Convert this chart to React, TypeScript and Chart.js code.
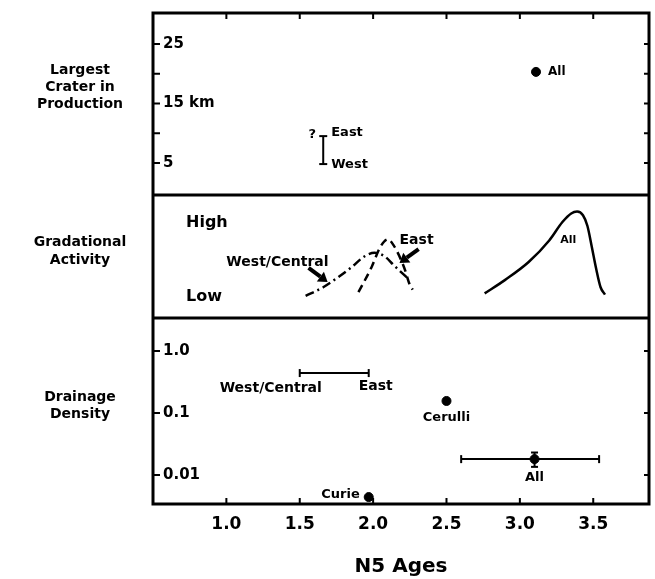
import React, { useEffect, useRef } from 'react';
import { Chart, registerables } from 'chart.js';

Chart.register(...registerables);

const FAMILY = "'DejaVu Sans', sans-serif";

// Axis ticks
const ageTicks = [1.0, 1.5, 2.0, 2.5, 3.0, 3.5];
const craterTicks = [5, 10, 15, 20, 25];
const craterTickLabels = ['5', '', '15 km', '', '25'];
const activityTicks = [1.7, 7.7];
const activityTickLabels = ['Low', 'High'];
const drainageTicks = [0.01, 0.1, 1.0];
const drainageTickLabels = ['0.01', '0.1', '1.0'];

// Largest crater in production (km)
const craterRangeAges = [1.66, 1.66];
const craterRangeKm = [9.5, 4.8]; // East (top), West (bottom)
const craterAllAge = [3.11];
const craterAllKm = [20.3];

// Gradational activity (relative, Low..High)
const westCentralAges = [1.54, 1.66, 1.76, 1.85, 1.94, 2.01, 2.08, 2.14, 2.23];
const westCentralActivity = [1.8, 2.5, 3.3, 4.1, 5.0, 5.3, 5.0, 4.3, 3.3];
const eastAges = [1.9, 1.99, 2.05, 2.1, 2.14, 2.21, 2.25, 2.27];
const eastActivity = [2.1, 4.15, 5.8, 6.4, 5.9, 4.15, 2.7, 2.3];
const allAges = [2.76, 2.9, 3.06, 3.2, 3.29, 3.35, 3.39, 3.43, 3.46, 3.49, 3.52, 3.55, 3.58];
const allActivity = [2.0, 3.1, 4.55, 6.3, 7.8, 8.5, 8.65, 8.35, 7.5, 5.8, 4.0, 2.5, 1.9];

// Drainage density
const drainRangeAges = [1.5, 1.97]; // West/Central .. East
const drainRangeDensity = [0.44, 0.44];
const cerulliAge = [2.5];
const cerulliDensity = [0.156];
const drainAllAge = [3.1];
const drainAllDensity = [0.018];
const drainAllAgeRange = [2.6, 3.54];
const drainAllDensityRange = [0.0135, 0.023];
const curieAge = [1.97];
const curieDensity = [0.0044];

const zip = (xs: number[], ys: number[]) => xs.map((x, i) => ({ x, y: ys[i] }));

const font = (size: number) => `bold ${size}px ${FAMILY}`;

const framePlugin = {
  id: 'frame',
  afterDraw(chart: any) {
    const { ctx, chartArea, scales } = chart;
    const { left, right, top, bottom } = chartArea;
    const x = scales.x;
    const yTop = scales.yTop;
    const yMid = scales.yMid;
    const yBot = scales.yBot;
    ctx.save();
    ctx.strokeStyle = '#000';
    ctx.fillStyle = '#000';
    ctx.lineWidth = 3;
    ctx.strokeRect(left, top, right - left, bottom - top);
    [yTop.bottom, yMid.bottom].forEach((py: number) => {
      ctx.beginPath();
      ctx.moveTo(left, py);
      ctx.lineTo(right, py);
      ctx.stroke();
    });
    ctx.lineWidth = 2;
    ageTicks.forEach((v) => {
      const px = x.getPixelForValue(v);
      ctx.beginPath();
      ctx.moveTo(px, top);
      ctx.lineTo(px, top + 6);
      ctx.moveTo(px, bottom);
      ctx.lineTo(px, bottom - 6);
      ctx.stroke();
    });
    const yt = (scale: any, vals: number[]) =>
      vals.forEach((v) => {
        const py = scale.getPixelForValue(v);
        ctx.beginPath();
        ctx.moveTo(left, py);
        ctx.lineTo(left + 7, py);
        ctx.moveTo(right, py);
        ctx.lineTo(right - 5, py);
        ctx.stroke();
      });
    yt(yTop, craterTicks);
    yt(yBot, drainageTicks);

    const text = (s: string, px: number, py: number, align: CanvasTextAlign, size: number) => {
      ctx.font = font(size);
      ctx.textAlign = align;
      ctx.textBaseline = 'middle';
      ctx.fillText(s, px, py);
    };

    // Left row titles
    const cx = 80;
    text('Largest', cx, yTop.top + 57, 'center', 14);
    text('Crater in', cx, yTop.top + 74, 'center', 14);
    text('Production', cx, yTop.top + 91, 'center', 14);
    text('Gradational', cx, yMid.top + 47, 'center', 14);
    text('Activity', cx, yMid.top + 65, 'center', 14);
    text('Drainage', cx, yBot.top + 79, 'center', 14);
    text('Density', cx, yBot.top + 96, 'center', 14);

    // Top panel labels
    const xr = x.getPixelForValue(craterRangeAges[0]);
    const yE = yTop.getPixelForValue(craterRangeKm[0]);
    const yW = yTop.getPixelForValue(craterRangeKm[1]);
    text('?', xr - 11, yE - 1, 'center', 13);
    text('East', xr + 8, yE - 3, 'left', 13);
    text('West', xr + 8, yW + 1, 'left', 13);
    text('All', x.getPixelForValue(craterAllAge[0]) + 12, yTop.getPixelForValue(craterAllKm[0]), 'left', 12);

    // Middle panel labels and arrows
    text('West/Central', x.getPixelForValue(1.0), yMid.getPixelForValue(4.55), 'left', 14);
    text('East', x.getPixelForValue(2.18), yMid.getPixelForValue(6.34), 'left', 14);
    text('All', x.getPixelForValue(3.33), yMid.getPixelForValue(6.34), 'center', 11);
    const arrow = (x0: number, y0: number, x1: number, y1: number) => {
      const ax = x.getPixelForValue(x0), ay = yMid.getPixelForValue(y0);
      const bx = x.getPixelForValue(x1), by = yMid.getPixelForValue(y1);
      const ang = Math.atan2(by - ay, bx - ax);
      const head = 9;
      const sx = bx - Math.cos(ang) * head, sy = by - Math.sin(ang) * head;
      ctx.lineWidth = 4;
      ctx.beginPath();
      ctx.moveTo(ax, ay);
      ctx.lineTo(sx, sy);
      ctx.stroke();
      ctx.beginPath();
      ctx.moveTo(bx, by);
      ctx.lineTo(sx + Math.cos(ang + Math.PI / 2) * 6, sy + Math.sin(ang + Math.PI / 2) * 6);
      ctx.lineTo(sx + Math.cos(ang - Math.PI / 2) * 6, sy + Math.sin(ang - Math.PI / 2) * 6);
      ctx.closePath();
      ctx.fill();
    };
    arrow(1.56, 4.07, 1.69, 2.93);
    arrow(2.31, 5.6, 2.18, 4.47);

    // Bottom panel labels
    const yr = yBot.getPixelForValue(drainRangeDensity[0]);
    text('West/Central', x.getPixelForValue(drainRangeAges[0]) - 29, yr + 15, 'center', 14);
    text('East', x.getPixelForValue(drainRangeAges[1]) + 7, yr + 13, 'center', 14);
    text('Cerulli', x.getPixelForValue(cerulliAge[0]), yBot.getPixelForValue(cerulliDensity[0]) + 17, 'center', 13);
    text('All', x.getPixelForValue(drainAllAge[0]), yBot.getPixelForValue(drainAllDensity[0]) + 19, 'center', 13);
    text('Curie', x.getPixelForValue(curieAge[0]) - 9, yBot.getPixelForValue(curieDensity[0]) - 2, 'right', 13);
    ctx.restore();
  },
};

const dot = (data: any[], yAxisID: string) => ({
  data,
  yAxisID,
  pointRadius: 4.5,
  pointBackgroundColor: '#000',
  pointBorderColor: '#000',
  showLine: false,
});

const capped = (data: any[], yAxisID: string, rotation: number, r: number) => ({
  data,
  yAxisID,
  showLine: true,
  borderColor: '#000',
  borderWidth: 2,
  pointStyle: 'line',
  pointRadius: r,
  pointBorderWidth: 2,
  pointBorderColor: '#000',
  pointRotation: rotation,
});

const curve = (data: any[], dash: number[]) => ({
  data,
  yAxisID: 'yMid',
  showLine: true,
  borderColor: '#000',
  borderWidth: 2.5,
  borderDash: dash,
  pointRadius: 0,
  cubicInterpolationMode: 'monotone',
});

export default function App() {
  const ref = useRef<HTMLCanvasElement>(null);
  useEffect(() => {
    if (!ref.current) return;
    const yCommon = (ticks: number[], labels: string[], pad: number, size: number) => ({
      position: 'left',
      stack: 'panels',
      grid: { display: false, drawTicks: false },
      border: { display: false },
      afterBuildTicks: (s: any) => {
        s.ticks = ticks.map((v) => ({ value: v }));
      },
      afterFit: (s: any) => {
        s.width = 0;
        s.paddingTop = 0;
        s.paddingBottom = 0;
        s.paddingLeft = 0;
        s.paddingRight = 0;
      },
      ticks: {
        mirror: true,
        padding: pad,
        color: '#000',
        font: { family: FAMILY, size, weight: 'bold' },
        callback: (v: number) => {
          const i = ticks.findIndex((t) => Math.abs(t - v) < 1e-9);
          return i >= 0 ? labels[i] : '';
        },
      },
    });
    const chart = new Chart(ref.current, {
      type: 'scatter',
      data: {
        datasets: [
          capped(zip(craterRangeAges, craterRangeKm), 'yTop', 0, 4),
          dot(zip(craterAllAge, craterAllKm), 'yTop'),
          curve(zip(westCentralAges, westCentralActivity), [9, 4, 2, 4]),
          curve(zip(eastAges, eastActivity), [8, 5]),
          curve(zip(allAges, allActivity), []),
          capped(zip(drainRangeAges, drainRangeDensity), 'yBot', 90, 4),
          dot(zip(cerulliAge, cerulliDensity), 'yBot'),
          capped(zip(drainAllAgeRange, drainAllAgeRange.map(() => drainAllDensity[0])), 'yBot', 90, 4),
          capped(zip(drainAllDensityRange.map(() => drainAllAge[0]), drainAllDensityRange), 'yBot', 0, 3.5),
          dot(zip(drainAllAge, drainAllDensity), 'yBot'),
          dot(zip(curieAge, curieDensity), 'yBot'),
        ] as any,
      },
      options: {
        responsive: false,
        animation: false,
        events: [],
        layout: { padding: { left: 153, right: 6, top: 13, bottom: 0 } },
        plugins: { legend: { display: false }, tooltip: { enabled: false } },
        scales: {
          x: {
            type: 'linear',
            position: 'bottom',
            min: 0.5,
            max: 3.88,
            grid: { display: false, drawTicks: false },
            border: { display: false },
            afterBuildTicks: (s: any) => {
              s.ticks = ageTicks.map((v) => ({ value: v }));
            },
            afterFit: (s: any) => {
              s.height = 75;
              s.paddingLeft = 0;
              s.paddingRight = 0;
            },
            ticks: {
              padding: 10,
              maxRotation: 0,
              autoSkip: false,
              color: '#000',
              font: { family: FAMILY, size: 17, weight: 'bold' },
              callback: (v: number) => Number(v).toFixed(1),
            },
            title: {
              display: true,
              text: 'N5 Ages',
              color: '#000',
              font: { family: FAMILY, size: 20, weight: 'bold' },
              padding: 0,
            },
          },
          yBot: {
            type: 'logarithmic',
            min: 0.0034,
            max: 3.4,
            stackWeight: 186,
            weight: 1,
            ...yCommon(drainageTicks, drainageTickLabels, 10, 15),
          },
          yMid: {
            type: 'linear',
            min: 0,
            max: 10,
            stackWeight: 123,
            weight: 2,
            ...yCommon(activityTicks, activityTickLabels, 33, 16),
          },
          yTop: {
            type: 'linear',
            min: -0.4,
            max: 30.2,
            stackWeight: 182,
            weight: 3,
            ...yCommon(craterTicks, craterTickLabels, 10, 15),
          },
        } as any,
      },
      plugins: [framePlugin],
    });
    return () => chart.destroy();
  }, []);
  return (
    <div style={{ position: 'absolute', left: 0, top: 0, width: 655, height: 579, background: '#fff' }}>
      <canvas ref={ref} width={655} height={579} style={{ display: 'block' }} />
    </div>
  );
}
